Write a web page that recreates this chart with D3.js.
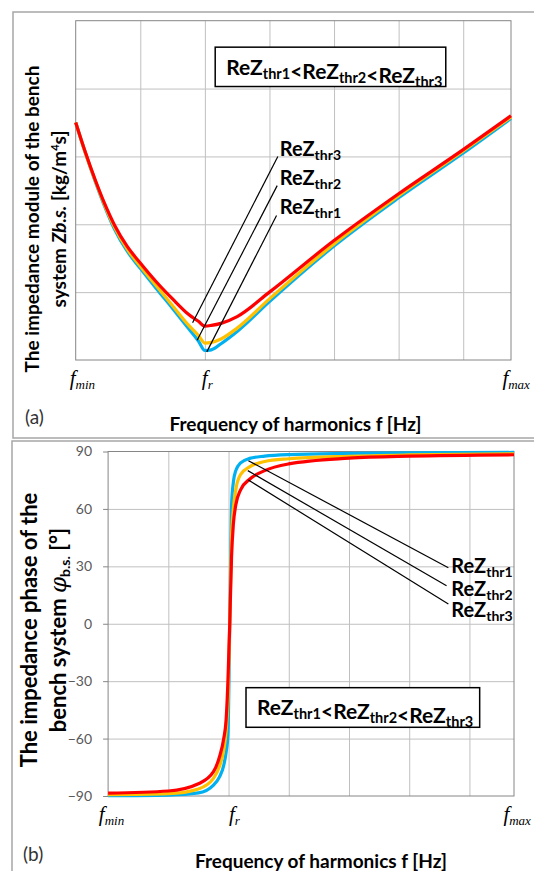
<!DOCTYPE html>
<html>
<head>
<meta charset="utf-8">
<script src="https://cdn.jsdelivr.net/npm/d3@7"></script>
<style>
  body { margin: 0; background: #ffffff; }
  text { font-family: Lato, "Noto Sans", sans-serif; }
</style>
</head>
<body>
<div id="graphic"></div>
<script>
// ---- data (x in grid units: fmin = 0, fr = 2, fmax = 6.74) ----
var xDomain = [0, 6.74];
var xGrid = [1, 2, 3, 4, 5, 6];
var xTickValues = [0, 2, 6.74];
var xTickSubs = ["min", "r", "max"];

// (a) impedance module
var modX    = [0, 0.15, 0.3, 0.45, 0.6, 0.8, 1, 1.25, 1.5, 1.75, 1.9, 2, 2.1, 2.25, 2.5, 3, 4, 5, 6, 6.74];
var modThr1 = [3.5, 3.05, 2.64, 2.26, 1.93, 1.6, 1.35, 1.05, 0.76, 0.46, 0.28, 0.14, 0.15, 0.24, 0.42, 0.86, 1.68, 2.39, 3.05, 3.56];
var modThr2 = [3.5, 3.05, 2.65, 2.28, 1.96, 1.63, 1.38, 1.09, 0.8, 0.51, 0.36, 0.25, 0.26, 0.31, 0.47, 0.9, 1.71, 2.42, 3.08, 3.58];
var modThr3 = [3.5, 3.06, 2.66, 2.3, 1.99, 1.67, 1.43, 1.15, 0.9, 0.67, 0.57, 0.5, 0.51, 0.54, 0.64, 1.0, 1.76, 2.45, 3.1, 3.6];
var modGrid = [1, 2, 3, 4];

// (b) impedance phase
var phaseX    = [0, 1, 1.5, 1.75, 1.85, 1.92, 1.96, 1.99, 2.02, 2.05, 2.08, 2.12, 2.2, 2.35, 2.6, 3, 4, 5, 6.74];
var phaseThr1 = [-89.8, -89.5, -88.4, -84.3, -80, -74, -67, -58, 0, 62, 74, 80, 84, 86.4, 87.6, 88.4, 89, 89.3, 89.5];
var phaseThr2 = [-89.3, -88.8, -86.3, -80.8, -74.5, -66, -56, -40, 0, 45, 60, 70, 78, 82, 84.8, 86.2, 87.5, 88.2, 88.8];
var phaseThr3 = [-88.5, -87.4, -83.6, -77.3, -69.5, -60, -50, -30, 0, 35, 52, 62, 70, 75.5, 80, 83.5, 86.5, 87.6, 88.3];
var phaseTicks = [-90, -60, -30, 0, 30, 60, 90];

// annotations, in data units (thr1, thr2, thr3)
var modLeaderFrom = [[3.11, 2.13], [3.12, 2.57], [3.13, 3.0]];
var modLeaderTo   = [[2.03, 0.12], [1.88, 0.29], [1.81, 0.55]];
var modLabelPos   = [[3.16, 2.15], [3.16, 2.58], [3.16, 3.0]];
var modLegendBox  = [2.16, 4.61, 5.73, 4.03];

var phaseLeaderFrom = [[2.33, 85.2], [2.32, 80.0], [2.33, 75.1]];
var phaseLeaderTo   = [[5.65, 29.3], [5.62, 19.9], [5.65, 10.3]];
var phaseLabelPos   = [[5.70, 26.7], [5.70, 14.7], [5.70, 3.4]];
var phaseLegendBox  = [2.29, -33.4, 6.17, -54.1];

var seriesColors = ["#00B0F0", "#FFC000", "#FF0000"];

var svgWidth = 534;
var svgHeight = 871;

var svg = d3.select("#graphic")
    .append("svg")
    .attr("width", svgWidth)
    .attr("height", svgHeight);

// outer frames of the two figures
svg.append("rect").attr("x", 13).attr("y", 12).attr("width", 540).attr("height", 426)
    .attr("fill", "none").attr("stroke", "#a6a6a6").attr("stroke-width", 1.5);
svg.append("rect").attr("x", 12).attr("y", 441).attr("width", 540).attr("height", 440)
    .attr("fill", "none").attr("stroke", "#a6a6a6").attr("stroke-width", 1.5);

// writes ReZ with subscript thr + n into a text element
function addReZ(t, n, big, small) {
    t.append("tspan").attr("font-size", big).text("ReZ");
    t.append("tspan").attr("font-size", small).attr("dy", 4).text("thr" + n);
    t.append("tspan").attr("dy", -4).text("");
}

function drawPanel(p) {
    var x = d3.scaleLinear().domain(xDomain).range([p.left, p.right]);
    var y = d3.scaleLinear().domain(p.yDomain).range([p.bottom, p.top]);
    var g = svg.append("g");

    // grid
    g.append("g")
        .attr("transform", "translate(0," + p.bottom + ")")
        .call(d3.axisBottom(x).tickValues(xGrid).tickSize(-(p.bottom - p.top)).tickFormat(""))
        .call(function(s) {
            s.select(".domain").remove();
            s.selectAll("line").attr("stroke", "#c0c0c0");
        });
    g.append("g")
        .attr("transform", "translate(" + p.left + ",0)")
        .call(d3.axisLeft(y).tickValues(p.yGrid).tickSize(-(p.right - p.left)).tickFormat(""))
        .call(function(s) {
            s.select(".domain").remove();
            s.selectAll("line").attr("stroke", "#c0c0c0");
        });

    g.append("rect")
        .attr("x", p.left).attr("y", p.top)
        .attr("width", p.right - p.left).attr("height", p.bottom - p.top)
        .attr("fill", "none").attr("stroke", "#868686");

    // curves, thr1 drawn first
    var line = d3.line()
        .x(function(d, i) { return x(p.xs[i]); })
        .y(function(d) { return y(d); })
        .curve(d3.curveMonotoneX);
    p.series.forEach(function(vals, k) {
        g.append("path")
            .datum(vals)
            .attr("d", line)
            .attr("fill", "none")
            .attr("stroke", seriesColors[k])
            .attr("stroke-width", 3.2)
            .attr("stroke-linejoin", "round");
    });

    // leaders and labels
    p.from.forEach(function(a, k) {
        g.append("line")
            .attr("x1", x(a[0])).attr("y1", y(a[1]))
            .attr("x2", x(p.to[k][0])).attr("y2", y(p.to[k][1]))
            .attr("stroke", "#000").attr("stroke-width", 1.2);
        var t = g.append("text")
            .attr("x", x(p.labels[k][0])).attr("y", y(p.labels[k][1]))
            .attr("font-weight", "bold").attr("fill", "#000");
        addReZ(t, k + 1, 20, 14);
    });

    // legend box
    var b = p.box;
    g.append("rect")
        .attr("x", x(b[0])).attr("y", y(b[1]))
        .attr("width", x(b[2]) - x(b[0])).attr("height", y(b[3]) - y(b[1]))
        .attr("fill", "#fff").attr("stroke", "#000").attr("stroke-width", 1.5);
    var lt = g.append("text")
        .attr("x", x(b[0]) + 11).attr("y", y(b[1]) + 27.5)
        .attr("font-weight", "bold").attr("font-size", 21);
    [1, 2, 3].forEach(function(n, i) {
        addReZ(lt, n, 21, 14.5);
        if (i < 2) lt.append("tspan").attr("font-size", 21).text("<");
    });

    // x tick labels f_min, f_r, f_max
    xTickValues.forEach(function(v, i) {
        var t = g.append("text")
            .attr("x", x(v) + p.tickDx[i]).attr("y", p.tickY)
            .style("font-family", "'Liberation Serif', serif")
            .style("font-style", "italic").attr("fill", "#000");
        t.append("tspan").attr("font-size", 21).text("f");
        t.append("tspan").attr("font-size", 13).attr("dy", 3.5).text(xTickSubs[i]);
    });

    // x title and figure tag
    g.append("text")
        .attr("x", p.titleX).attr("y", p.titleY)
        .attr("text-anchor", "middle").attr("font-weight", "bold").attr("font-size", 19)
        .text("Frequency of harmonics f [Hz]");
    g.append("text")
        .attr("x", p.tagX).attr("y", p.tagY)
        .attr("font-size", 19).attr("fill", "#333")
        .text(p.tag);

    return { x: x, y: y, g: g };
}

// ---- (a) ----
var pa = drawPanel({
    left: 75.7, right: 511, top: 20.7, bottom: 360,
    yDomain: [0, 5], yGrid: modGrid,
    xs: modX, series: [modThr1, modThr2, modThr3],
    from: modLeaderFrom, to: modLeaderTo, labels: modLabelPos, box: modLegendBox,
    tickDx: [-6, -3, -8.6], tickY: 385,
    titleX: 295.5, titleY: 431, tag: "(a)", tagX: 25, tagY: 424
});

pa.g.append("text")
    .attr("transform", "translate(39,219) rotate(-90)")
    .attr("text-anchor", "middle").attr("font-weight", "bold").attr("font-size", 19)
    .text("The impedance module of the bench");
var ya2 = pa.g.append("text")
    .attr("transform", "translate(66,219) rotate(-90)")
    .attr("text-anchor", "middle").attr("font-weight", "bold").attr("font-size", 19);
ya2.append("tspan").text("system ");
ya2.append("tspan").style("font-style", "italic").text("Zb.s.");
ya2.append("tspan").text(" [kg/m");
ya2.append("tspan").attr("font-size", 11).attr("dy", -7).text("4");
ya2.append("tspan").attr("dy", 7).text("s]");

// ---- (b) ----
var pb = drawPanel({
    left: 108.1, right: 514, top: 451.5, bottom: 796,
    yDomain: [-90, 90], yGrid: [-60, -30, 0, 30, 60],
    xs: phaseX, series: [phaseThr1, phaseThr2, phaseThr3],
    from: phaseLeaderFrom, to: phaseLeaderTo, labels: phaseLabelPos, box: phaseLegendBox,
    tickDx: [-9.3, 0.4, -10.6], tickY: 821,
    titleX: 321, titleY: 868, tag: "(b)", tagX: 23, tagY: 861
});

pb.g.append("g")
    .attr("transform", "translate(108.1,0)")
    .call(d3.axisLeft(pb.y).tickValues(phaseTicks).tickSize(5).tickPadding(11))
    .call(function(s) {
        s.select(".domain").remove();
        s.selectAll("line").attr("stroke", "#868686");
        s.selectAll("text").attr("font-size", 14).attr("fill", "#595959")
            .style("font-family", "Lato, sans-serif");
    });

pb.g.append("text")
    .attr("transform", "translate(37,630) rotate(-90)")
    .attr("text-anchor", "middle").attr("font-weight", "bold").attr("font-size", 22)
    .text("The impedance phase of the");
var yb2 = pb.g.append("text")
    .attr("transform", "translate(66,630) rotate(-90)")
    .attr("text-anchor", "middle").attr("font-weight", "bold").attr("font-size", 22);
yb2.append("tspan").text("bench system ");
yb2.append("tspan").style("font-family", "'DejaVu Serif', serif").style("font-style", "italic")
    .attr("font-weight", "normal").attr("font-size", 23).text("φ");
yb2.append("tspan").attr("font-size", 14).attr("dy", 4).text("b.s.");
yb2.append("tspan").attr("dy", -4).text(" [°]");
</script>
</body>
</html>
